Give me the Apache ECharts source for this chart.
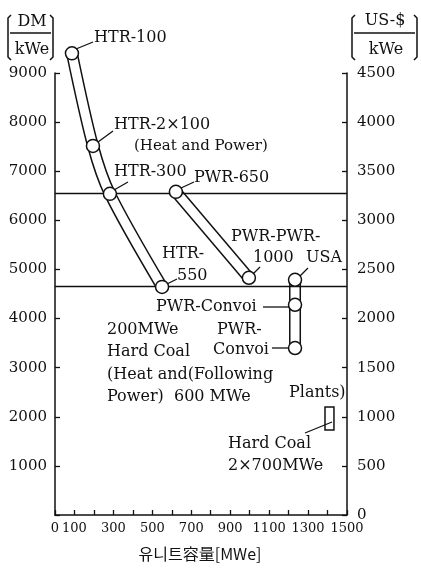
<!DOCTYPE html>
<html>
<head>
<meta charset="utf-8">
<script src="https://cdn.jsdelivr.net/npm/echarts@6/dist/echarts.min.js"></script>
<style>
  html, body { margin: 0; padding: 0; background: #fff; }
  #chart { width: 421px; height: 574px; }
</style>
</head>
<body>
<div id="chart"></div>
<script>
// unit capacity (MWe) vs. specific cost (DM/kWe)
const htrCapacity = [87, 195, 282, 550];
const htrCost = [9400, 7515, 6540, 4645];
const pwrCapacity = [621, 996];
const pwrCost = [6580, 4830];
const convoiCapacity = [1233, 1233, 1233];
const convoiCost = [4790, 4280, 3400];
const coalBoxCapacity = [1387, 1433];
const coalBoxCost = [2200, 1730];
const refLevels = [6550, 4660];
const xTickLabels = [0, 100, 300, 500, 700, 900, 1100, 1300, 1500];

const serif = 'DejaVu Serif';
const ink = '#111';

const chart = echarts.init(document.getElementById('chart'));

const pairs = (xs, ys) => xs.map((x, i) => [x, ys[i]]);
const htr = pairs(htrCapacity, htrCost);
const pwr = pairs(pwrCapacity, pwrCost);
const convoi = pairs(convoiCapacity, convoiCost);

function tube(data, smooth) {
  return [
    {
      type: 'line', data, smooth, symbol: 'none', clip: false, z: 3,
      lineStyle: { color: ink, width: 12 }, silent: true,
    },
    {
      type: 'line', data, smooth, symbol: 'none', clip: false, z: 4,
      lineStyle: { color: '#fff', width: 9 }, silent: true,
    },
  ];
}

function txt(text, x, y, size, align) {
  return {
    type: 'text', x, y, z: 20,
    style: {
      text, fill: ink, font: `${size || 16}px "${serif}"`,
      align: align || 'left', verticalAlign: 'middle',
    },
  };
}

function seg(x1, y1, x2, y2) {
  return {
    type: 'line', z: 20,
    shape: { x1, y1, x2, y2 },
    style: { stroke: ink, lineWidth: 1.3 },
  };
}

function bracket(x, dir) {
  return {
    type: 'polyline', z: 20,
    shape: { points: [[x + 3 * dir, 15], [x, 18], [x, 57], [x + 3 * dir, 60]] },
    style: { stroke: ink, lineWidth: 1.5, fill: null },
  };
}

const axisLine = { show: true, lineStyle: { color: ink, width: 1.5 } };
const axisTick = { show: true, inside: true, length: 5, lineStyle: { color: ink, width: 1.3 } };

chart.setOption({
  animation: false,
  backgroundColor: '#fff',
  grid: { left: 55, right: 74, top: 73, bottom: 59 },
  xAxis: {
    type: 'value', min: 0, max: 1500, interval: 100,
    axisLine, axisTick, splitLine: { show: false },
    axisLabel: {
      color: ink, fontFamily: serif, fontSize: 13, margin: 7,
      formatter: (v) => (xTickLabels.includes(v) ? String(v) : ''),
    },
  },
  yAxis: [
    {
      type: 'value', min: 0, max: 9000, interval: 1000, position: 'left',
      axisLine, axisTick, splitLine: { show: false },
      axisLabel: {
        color: ink, fontFamily: serif, fontSize: 15, margin: 8,
        formatter: (v) => (v === 0 ? '' : String(v)),
      },
    },
    {
      type: 'value', min: 0, max: 4500, interval: 500, position: 'right',
      axisLine, axisTick, splitLine: { show: false },
      axisLabel: {
        color: ink, fontFamily: serif, fontSize: 15, margin: 10,
        formatter: (v) => String(v),
      },
    },
  ],
  series: [
    {
      type: 'line', data: [], symbol: 'none', z: 1,
      markLine: {
        silent: true, symbol: 'none', label: { show: false },
        lineStyle: { color: ink, width: 1.4, type: 'solid' },
        data: refLevels.map((v) => ({ yAxis: v })),
      },
      markArea: {
        silent: true,
        itemStyle: { color: '#fff', borderColor: ink, borderWidth: 1.5 },
        data: [[
          { coord: [coalBoxCapacity[0], coalBoxCost[0]] },
          { coord: [coalBoxCapacity[1], coalBoxCost[1]] },
        ]],
      },
    },
    ...tube(htr, 0.3),
    ...tube(pwr, false),
    ...tube(convoi, false),
    {
      type: 'scatter', clip: false, z: 6,
      data: [...htr, ...pwr, ...convoi],
      symbol: 'circle', symbolSize: 13,
      itemStyle: { color: '#fff', borderColor: ink, borderWidth: 1.5, opacity: 1 },
    },
  ],
  graphic: [
    // axis units
    bracket(8, 1), bracket(53, -1), seg(10, 33, 51, 33),
    txt('DM', 32, 22, 16, 'center'), txt('kWe', 32, 50, 16, 'center'),
    bracket(352, 1), bracket(417, -1), seg(354, 33, 415, 33),
    txt('US-$', 385, 21, 16, 'center'), txt('kWe', 386, 50, 16, 'center'),
    {
      type: 'text', x: 200, y: 554, z: 20,
      style: {
        text: '유니트容量[MWe]', fill: ink, font: '16px "Noto Sans CJK KR"',
        align: 'center', verticalAlign: 'middle',
      },
    },
    // annotations
    txt('HTR-100', 94, 38), seg(76, 49, 93, 42),
    txt('HTR-2×100', 114, 125), seg(98, 142, 113, 131),
    txt('(Heat and Power)', 134, 146, 15),
    txt('HTR-300', 114, 172), seg(114, 190, 128, 182),
    txt('PWR-650', 194, 178), seg(181, 188, 194, 182),
    txt('HTR-', 162, 254), txt('550', 177, 276), seg(167, 284, 177, 279),
    txt('PWR-PWR-', 231, 237), txt('1000', 253, 258), txt('USA', 306, 258),
    seg(253, 274, 260, 267), seg(300, 276, 308, 268),
    txt('PWR-Convoi', 156, 307), seg(263, 307, 289, 307),
    txt('200MWe', 107, 330), txt('PWR-', 217, 330),
    txt('Hard Coal', 107, 352), txt('Convoi', 213, 350), seg(272, 348, 289, 348),
    txt('(Heat and(Following', 107, 375),
    txt('Power)  600 MWe', 107, 397), txt('Plants)', 289, 393),
    txt('Hard Coal', 228, 444), txt('2×700MWe', 228, 466), seg(305, 433, 332, 422),
  ],
});
</script>
</body>
</html>
